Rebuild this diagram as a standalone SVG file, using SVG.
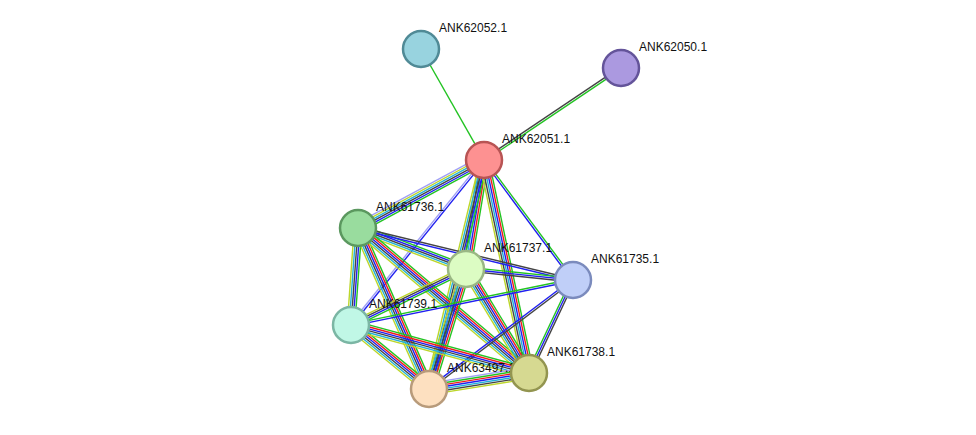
<svg xmlns="http://www.w3.org/2000/svg" width="976" height="435" viewBox="0 0 976 435">
<style>
line{stroke-width:1.4;fill:none}
.g{stroke:#22c322}.r{stroke:#f01c1c}.b{stroke:#2020f0}.k{stroke:#444}.c{stroke:#22b0d8}.y{stroke:#bcd62a}.l{stroke:#a0a0f5}
circle{stroke-width:2.5}
text{font-family:"Liberation Sans",Arial,sans-serif;font-size:12px;fill:#111}
</style>
<rect width="976" height="435" fill="#fff"/>
<g id="connectors">
<g transform="translate(421,49) rotate(60.4)"><line class="g" x1="0" y1="0" x2="127.6" y2="0"/></g>
<g transform="translate(484,160) rotate(-33.9)"><line class="k" x1="0" y1="-1" x2="165" y2="-1"/><line class="g" x1="0" y1="1" x2="165" y2="1"/></g>
<g transform="translate(484,160) rotate(151.6)"><line class="g" x1="0" y1="-4.75" x2="143.2" y2="-4.75"/><line class="b" x1="0" y1="-2.85" x2="143.2" y2="-2.85"/><line class="k" x1="0" y1="-0.95" x2="143.2" y2="-0.95"/><line class="c" x1="0" y1="0.95" x2="143.2" y2="0.95"/><line class="y" x1="0" y1="2.85" x2="143.2" y2="2.85"/><line class="l" x1="0" y1="4.75" x2="143.2" y2="4.75"/></g>
<g transform="translate(484,160) rotate(99.4)"><line class="g" x1="0" y1="-4.75" x2="110.5" y2="-4.75"/><line class="r" x1="0" y1="-2.85" x2="110.5" y2="-2.85"/><line class="b" x1="0" y1="-0.95" x2="110.5" y2="-0.95"/><line class="c" x1="0" y1="0.95" x2="110.5" y2="0.95"/><line class="k" x1="0" y1="2.85" x2="110.5" y2="2.85"/><line class="y" x1="0" y1="4.75" x2="110.5" y2="4.75"/></g>
<g transform="translate(484,160) rotate(53.4)"><line class="g" x1="0" y1="-1" x2="149.4" y2="-1"/><line class="b" x1="0" y1="1" x2="149.4" y2="1"/></g>
<g transform="translate(484,160) rotate(128.9)"><line class="b" x1="0" y1="-1" x2="211.9" y2="-1"/><line class="l" x1="0" y1="1" x2="211.9" y2="1"/></g>
<g transform="translate(484,160) rotate(103.5)"><line class="g" x1="0" y1="-3.8" x2="235.5" y2="-3.8"/><line class="b" x1="0" y1="-1.9" x2="235.5" y2="-1.9"/><line class="k" x1="0" y1="0" x2="235.5" y2="0"/><line class="c" x1="0" y1="1.9" x2="235.5" y2="1.9"/><line class="y" x1="0" y1="3.8" x2="235.5" y2="3.8"/></g>
<g transform="translate(484,160) rotate(78.1)"><line class="g" x1="0" y1="-4.75" x2="217.7" y2="-4.75"/><line class="r" x1="0" y1="-2.85" x2="217.7" y2="-2.85"/><line class="b" x1="0" y1="-0.95" x2="217.7" y2="-0.95"/><line class="c" x1="0" y1="0.95" x2="217.7" y2="0.95"/><line class="k" x1="0" y1="2.85" x2="217.7" y2="2.85"/><line class="y" x1="0" y1="4.75" x2="217.7" y2="4.75"/></g>
<g transform="translate(358,228) rotate(20.8)"><line class="g" x1="0" y1="-3.8" x2="115.5" y2="-3.8"/><line class="b" x1="0" y1="-1.9" x2="115.5" y2="-1.9"/><line class="k" x1="0" y1="0" x2="115.5" y2="0"/><line class="c" x1="0" y1="1.9" x2="115.5" y2="1.9"/><line class="y" x1="0" y1="3.8" x2="115.5" y2="3.8"/></g>
<g transform="translate(358,228) rotate(13.6)"><line class="k" x1="0" y1="-1" x2="221.2" y2="-1"/><line class="b" x1="0" y1="1" x2="221.2" y2="1"/></g>
<g transform="translate(358,228) rotate(94.1)"><line class="g" x1="0" y1="-3.8" x2="97.3" y2="-3.8"/><line class="b" x1="0" y1="-1.9" x2="97.3" y2="-1.9"/><line class="k" x1="0" y1="0" x2="97.3" y2="0"/><line class="c" x1="0" y1="1.9" x2="97.3" y2="1.9"/><line class="y" x1="0" y1="3.8" x2="97.3" y2="3.8"/></g>
<g transform="translate(358,228) rotate(66.2)"><line class="g" x1="0" y1="-4.75" x2="176" y2="-4.75"/><line class="r" x1="0" y1="-2.85" x2="176" y2="-2.85"/><line class="b" x1="0" y1="-0.95" x2="176" y2="-0.95"/><line class="k" x1="0" y1="0.95" x2="176" y2="0.95"/><line class="c" x1="0" y1="2.85" x2="176" y2="2.85"/><line class="y" x1="0" y1="4.75" x2="176" y2="4.75"/></g>
<g transform="translate(358,228) rotate(40.3)"><line class="g" x1="0" y1="-4.75" x2="224.2" y2="-4.75"/><line class="r" x1="0" y1="-2.85" x2="224.2" y2="-2.85"/><line class="b" x1="0" y1="-0.95" x2="224.2" y2="-0.95"/><line class="k" x1="0" y1="0.95" x2="224.2" y2="0.95"/><line class="c" x1="0" y1="2.85" x2="224.2" y2="2.85"/><line class="y" x1="0" y1="4.75" x2="224.2" y2="4.75"/></g>
<g transform="translate(466,269) rotate(5.9)"><line class="g" x1="0" y1="-1.9" x2="107.6" y2="-1.9"/><line class="b" x1="0" y1="0" x2="107.6" y2="0"/><line class="k" x1="0" y1="1.9" x2="107.6" y2="1.9"/></g>
<g transform="translate(466,269) rotate(154)"><line class="g" x1="0" y1="-2.85" x2="127.9" y2="-2.85"/><line class="b" x1="0" y1="-0.95" x2="127.9" y2="-0.95"/><line class="k" x1="0" y1="0.95" x2="127.9" y2="0.95"/><line class="y" x1="0" y1="2.85" x2="127.9" y2="2.85"/></g>
<g transform="translate(466,269) rotate(107.1)"><line class="g" x1="0" y1="-4.75" x2="125.6" y2="-4.75"/><line class="r" x1="0" y1="-2.85" x2="125.6" y2="-2.85"/><line class="b" x1="0" y1="-0.95" x2="125.6" y2="-0.95"/><line class="k" x1="0" y1="0.95" x2="125.6" y2="0.95"/><line class="c" x1="0" y1="2.85" x2="125.6" y2="2.85"/><line class="y" x1="0" y1="4.75" x2="125.6" y2="4.75"/></g>
<g transform="translate(466,269) rotate(58.8)"><line class="g" x1="0" y1="-4.75" x2="121.6" y2="-4.75"/><line class="r" x1="0" y1="-2.85" x2="121.6" y2="-2.85"/><line class="b" x1="0" y1="-0.95" x2="121.6" y2="-0.95"/><line class="k" x1="0" y1="0.95" x2="121.6" y2="0.95"/><line class="c" x1="0" y1="2.85" x2="121.6" y2="2.85"/><line class="y" x1="0" y1="4.75" x2="121.6" y2="4.75"/></g>
<g transform="translate(573,280) rotate(168.5)"><line class="b" x1="0" y1="-1" x2="226.5" y2="-1"/><line class="g" x1="0" y1="1" x2="226.5" y2="1"/></g>
<g transform="translate(573,280) rotate(142.9)"><line class="k" x1="0" y1="-1" x2="180.6" y2="-1"/><line class="b" x1="0" y1="1" x2="180.6" y2="1"/></g>
<g transform="translate(573,280) rotate(115.3)"><line class="k" x1="0" y1="-1.9" x2="102.9" y2="-1.9"/><line class="b" x1="0" y1="0" x2="102.9" y2="0"/><line class="g" x1="0" y1="1.9" x2="102.9" y2="1.9"/></g>
<g transform="translate(351,325) rotate(39.4)"><line class="g" x1="0" y1="-4.75" x2="100.9" y2="-4.75"/><line class="r" x1="0" y1="-2.85" x2="100.9" y2="-2.85"/><line class="b" x1="0" y1="-0.95" x2="100.9" y2="-0.95"/><line class="k" x1="0" y1="0.95" x2="100.9" y2="0.95"/><line class="c" x1="0" y1="2.85" x2="100.9" y2="2.85"/><line class="y" x1="0" y1="4.75" x2="100.9" y2="4.75"/></g>
<g transform="translate(351,325) rotate(15.1)"><line class="g" x1="0" y1="-4.75" x2="184.4" y2="-4.75"/><line class="r" x1="0" y1="-2.85" x2="184.4" y2="-2.85"/><line class="b" x1="0" y1="-0.95" x2="184.4" y2="-0.95"/><line class="k" x1="0" y1="0.95" x2="184.4" y2="0.95"/><line class="c" x1="0" y1="2.85" x2="184.4" y2="2.85"/><line class="y" x1="0" y1="4.75" x2="184.4" y2="4.75"/></g>
<g transform="translate(429,389) rotate(-9.1)"><line class="l" x1="0" y1="-5.7" x2="101.3" y2="-5.7"/><line class="g" x1="0" y1="-3.8" x2="101.3" y2="-3.8"/><line class="r" x1="0" y1="-1.9" x2="101.3" y2="-1.9"/><line class="b" x1="0" y1="0" x2="101.3" y2="0"/><line class="c" x1="0" y1="1.9" x2="101.3" y2="1.9"/><line class="k" x1="0" y1="3.8" x2="101.3" y2="3.8"/><line class="y" x1="0" y1="5.7" x2="101.3" y2="5.7"/></g>
</g>
<g id="n62052"><circle cx="421" cy="49" r="18" fill="#98d3df" stroke="#508a96"/><text x="439" y="32">ANK62052.1</text></g>
<g id="n62050"><circle cx="621" cy="68" r="18" fill="#ab99e0" stroke="#64549a"/><text x="639" y="51">ANK62050.1</text></g>
<g id="n62051"><circle cx="484" cy="160" r="18" fill="#fd9191" stroke="#b85454"/><text x="502" y="143">ANK62051.1</text></g>
<g id="n61736"><circle cx="358" cy="228" r="18" fill="#99dc9e" stroke="#5b985f"/><text x="376" y="211">ANK61736.1</text></g>
<g id="n61737"><circle cx="466" cy="269" r="18" fill="#dcfcc3" stroke="#9ab784"/><text x="484" y="252">ANK61737.1</text></g>
<g id="n61735"><circle cx="573" cy="280" r="18" fill="#c0cff8" stroke="#7b8bbd"/><text x="591" y="263">ANK61735.1</text></g>
<g id="n61739"><circle cx="351" cy="325" r="18" fill="#c0f7e6" stroke="#7bb6a4"/><text x="369" y="308">ANK61739.1</text></g>
<g id="n63497"><circle cx="429" cy="389" r="18" fill="#fde0c0" stroke="#b89b7b"/><text x="447" y="372">ANK63497.1</text></g>
<g id="n61738"><circle cx="529" cy="373" r="18" fill="#d6d991" stroke="#939550"/><text x="547" y="356">ANK61738.1</text></g>
</svg>
